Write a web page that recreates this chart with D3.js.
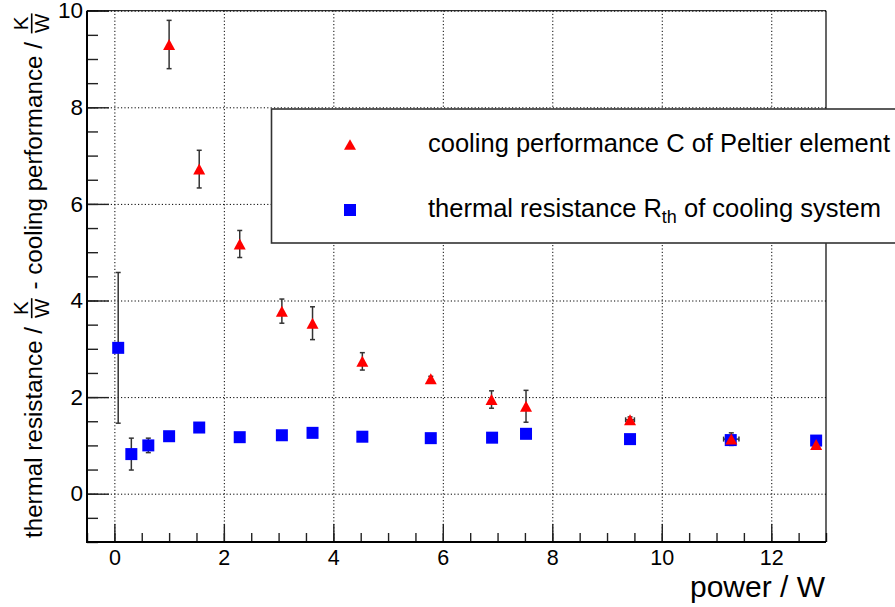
<!DOCTYPE html>
<head>
  <meta charset="utf-8">
  <script src="https://d3js.org/d3.v7.min.js"></script>
  <style>
    body { margin: 0; background: #fff; }
    text { font-family: "Liberation Sans", Arial, Helvetica, sans-serif; fill: #000; }
  </style>
</head>
<body>
<script>
  // cooling performance C of the Peltier element (red triangles)
  var coolX    = [1.0, 1.55, 2.29, 3.06, 3.62, 4.53, 5.78, 6.89, 7.52, 9.42, 11.27, 12.82];
  var coolY    = [9.3, 6.72, 5.17, 3.78, 3.53, 2.74, 2.38, 1.95, 1.81, 1.53, 1.13, 1.02];
  var coolYErr = [0.5, 0.39, 0.28, 0.25, 0.34, 0.18, 0.05, 0.18, 0.33, 0.06, 0.13, 0.07];
  var coolXErr = [0, 0, 0, 0, 0, 0, 0, 0, 0, 0.08, 0.14, 0.05];

  // thermal resistance R_th of the cooling system (blue squares)
  var rthX    = [0.07, 0.31, 0.62, 1.0, 1.55, 2.29, 3.06, 3.62, 4.53, 5.78, 6.9, 7.52, 9.42, 11.26, 12.82];
  var rthY    = [3.02, 0.82, 1.0, 1.19, 1.37, 1.17, 1.21, 1.26, 1.18, 1.15, 1.16, 1.24, 1.13, 1.11, 1.1];
  var rthYErr = [1.56, 0.33, 0.15, 0.05, 0.05, 0.05, 0.05, 0.05, 0.05, 0.05, 0.05, 0.05, 0.05, 0.05, 0.05];

  var xMajorTicks = [0, 2, 4, 6, 8, 10, 12];
  var yMajorTicks = [0, 2, 4, 6, 8, 10];
  var xDomain = [-0.5, 13];
  var yDomain = [-1, 10];

  var legendLabels = ["cooling performance C of Peltier element", "thermal resistance R", "th", " of cooling system"];
  var xAxisLabel = "power / W";

  var outerWidth = 895, outerHeight = 607;
  var margin = { top: 10.7, left: 87, right: 69, bottom: 65 };
  var width = outerWidth - margin.left - margin.right,
      height = outerHeight - margin.top - margin.bottom;

  var xScale = d3.scaleLinear().domain(xDomain).range([0, width]);
  var yScale = d3.scaleLinear().domain(yDomain).range([height, 0]);

  var minorX = d3.range(-0.5, 13.01, 0.5);
  var minorY = d3.range(-1, 10.01, 0.5);

  var svg = d3.select("body").append("svg")
    .attr("width", outerWidth)
    .attr("height", outerHeight);

  svg.append("rect").attr("width", outerWidth).attr("height", outerHeight).attr("fill", "#fff");

  var g = svg.append("g")
    .attr("transform", "translate(" + margin.left + "," + margin.top + ")");

  // dotted grid
  var gridX = g.append("g").attr("transform", "translate(0," + height + ")")
    .call(d3.axisBottom(xScale).tickValues(xMajorTicks).tickSize(-height).tickFormat(""));
  var gridY = g.append("g")
    .call(d3.axisLeft(yScale).tickValues(yMajorTicks).tickSize(-width).tickFormat(""));
  [gridX, gridY].forEach(function(sel) {
    sel.select(".domain").remove();
    sel.selectAll("line").attr("stroke", "#000").attr("stroke-width", 1).attr("stroke-dasharray", "1.2,2.2");
  });

  // minor ticks
  var xMinor = g.append("g").attr("transform", "translate(0," + height + ")")
    .call(d3.axisBottom(xScale).tickValues(minorX).tickSize(-9).tickFormat(""));
  var yMinor = g.append("g")
    .call(d3.axisLeft(yScale).tickValues(minorY).tickSize(-11).tickFormat(""));

  // major ticks + labels
  var xAxis = g.append("g").attr("transform", "translate(0," + height + ")")
    .call(d3.axisBottom(xScale).tickValues(xMajorTicks).tickSize(-18).tickPadding(8).tickFormat(d3.format("d")));
  var yAxis = g.append("g")
    .call(d3.axisLeft(yScale).tickValues(yMajorTicks).tickSize(-22).tickPadding(5).tickFormat(d3.format("d")));

  [xMinor, yMinor, xAxis, yAxis].forEach(function(sel) {
    sel.select(".domain").remove();
    sel.selectAll("line").attr("stroke", "#222").attr("stroke-width", 1.4);
  });
  xAxis.selectAll("text").attr("font-size", 21.5).attr("fill", "#000").attr("dy", "0.71em");
  yAxis.selectAll("text").attr("font-size", 22.5).attr("fill", "#000").attr("x", -4);

  // frame
  g.append("line").attr("x1", 0).attr("x2", width).attr("y1", 0).attr("y2", 0)
    .attr("stroke", "#000").attr("stroke-width", 1);
  g.append("line").attr("x1", width).attr("x2", width).attr("y1", 0).attr("y2", height)
    .attr("stroke", "#000").attr("stroke-width", 1.2);
  g.append("line").attr("x1", 0).attr("x2", 0).attr("y1", 0).attr("y2", height + 1)
    .attr("stroke", "#000").attr("stroke-width", 2);
  g.append("line").attr("x1", -1).attr("x2", width).attr("y1", height).attr("y2", height)
    .attr("stroke", "#000").attr("stroke-width", 2);

  // error bars
  function drawErrors(xs, ys, yerr, xerr) {
    var eg = g.append("g").attr("stroke", "#333").attr("stroke-width", 1.5);
    xs.forEach(function(xv, i) {
      var cx = xScale(xv), cy = yScale(ys[i]);
      if (yerr[i] > 0) {
        var y1 = yScale(ys[i] + yerr[i]), y2 = yScale(ys[i] - yerr[i]);
        eg.append("line").attr("x1", cx).attr("x2", cx).attr("y1", y1).attr("y2", y2);
        eg.append("line").attr("x1", cx - 2.5).attr("x2", cx + 2.5).attr("y1", y1).attr("y2", y1);
        eg.append("line").attr("x1", cx - 2.5).attr("x2", cx + 2.5).attr("y1", y2).attr("y2", y2);
      }
      if (xerr && xerr[i] > 0) {
        var x1 = xScale(xv - xerr[i]), x2 = xScale(xv + xerr[i]);
        eg.append("line").attr("x1", x1).attr("x2", x2).attr("y1", cy).attr("y2", cy);
        eg.append("line").attr("x1", x1).attr("x2", x1).attr("y1", cy - 2.5).attr("y2", cy + 2.5);
        eg.append("line").attr("x1", x2).attr("x2", x2).attr("y1", cy - 2.5).attr("y2", cy + 2.5);
      }
    });
  }

  function trianglePath(cx, cy, w, h) {
    return "M" + (cx - w / 2) + "," + (cy + h / 2) + "L" + (cx + w / 2) + "," + (cy + h / 2) +
      "L" + cx + "," + (cy - h / 2) + "Z";
  }

  drawErrors(rthX, rthY, rthYErr, null);
  drawErrors(coolX, coolY, coolYErr, coolXErr);

  g.append("g").selectAll("rect")
    .data(rthX.map(function(v, i) { return { x: v, y: rthY[i] }; }))
    .enter().append("rect")
    .attr("x", function(d) { return xScale(d.x) - 6; })
    .attr("y", function(d) { return yScale(d.y) - 6; })
    .attr("width", 12).attr("height", 12)
    .attr("fill", "#0000ff");

  g.append("g").selectAll("path")
    .data(coolX.map(function(v, i) { return { x: v, y: coolY[i] }; }))
    .enter().append("path")
    .attr("d", function(d) { return trianglePath(xScale(d.x), yScale(d.y), 12, 11); })
    .attr("fill", "#ff0000");

  // legend
  var leg = svg.append("g");
  leg.append("rect").attr("x", 271.5).attr("y", 109).attr("width", 700).attr("height", 134)
    .attr("fill", "#fff").attr("stroke", "#333").attr("stroke-width", 1.6);
  leg.append("path").attr("d", trianglePath(350, 144.5, 12, 10.5)).attr("fill", "#ff0000");
  leg.append("rect").attr("x", 344).attr("y", 204).attr("width", 12).attr("height", 12).attr("fill", "#0000ff");
  leg.append("text").attr("x", 428).attr("y", 152).attr("font-size", 25.5).text(legendLabels[0]);
  var t2 = leg.append("text").attr("x", 428).attr("y", 217).attr("font-size", 25.5);
  t2.append("tspan").text(legendLabels[1]);
  t2.append("tspan").attr("font-size", 18).attr("dy", 6).text(legendLabels[2]);
  t2.append("tspan").attr("dy", -6).text(legendLabels[3].replace(/ /g, "\u00A0"));

  // x axis label
  svg.append("text").attr("x", 825).attr("y", 597).attr("text-anchor", "end")
    .attr("font-size", 30).text(xAxisLabel);

  // y axis label with stacked K/W fractions
  var yl = svg.append("g").attr("transform", "translate(42,538) rotate(-90)");
  var pieces = ["thermal resistance /\u00A0", "frac", "\u00A0-\u00A0cooling performance /\u00A0", "frac"];
  var pos = 0;
  pieces.forEach(function(p) {
    if (p === "frac") {
      pos += 2;
      var fw = 20;
      yl.append("text").attr("x", pos + fw / 2).attr("y", -14.5).attr("text-anchor", "middle")
        .attr("font-size", 20.5).text("K");
      yl.append("line").attr("x1", pos).attr("x2", pos + fw).attr("y1", -10.3).attr("y2", -10.3)
        .attr("stroke", "#000").attr("stroke-width", 1.6);
      yl.append("text").attr("x", pos + fw / 2).attr("y", 6.5).attr("text-anchor", "middle")
        .attr("font-size", 20.5).text("W");
      pos += fw + 2;
    } else {
      var t = yl.append("text").attr("x", pos).attr("y", 0).attr("font-size", 24.2).text(p);
      pos += t.node().getComputedTextLength();
    }
  });
</script>
</body>
